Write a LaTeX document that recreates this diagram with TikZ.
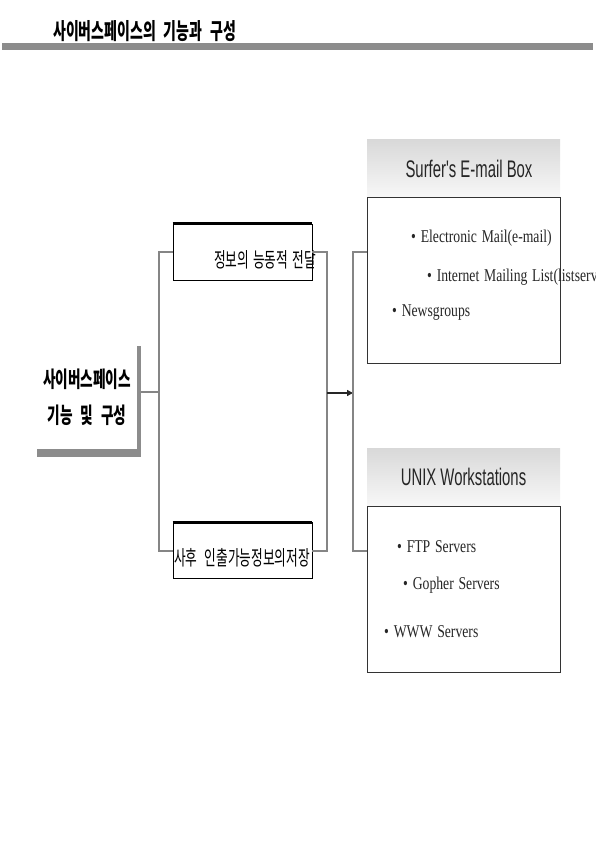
\documentclass[tikz,border=0pt]{standalone}
\usepackage{fontspec}
\newfontfamily\kfont{Noto Sans CJK KR}[FakeStretch=0.62, WordSpace=2.5]
\newfontfamily\hfont{Liberation Sans}[FakeStretch=0.62]
\newfontfamily\ifont{Liberation Serif}[FakeStretch=0.76, WordSpace=1.4]
\definecolor{linkgray}{HTML}{858585}
\definecolor{shadegray}{HTML}{8C8C8C}
\usetikzlibrary{positioning, arrows.meta, backgrounds}

\begin{document}
\begin{tikzpicture}[
  x=1pt, y=-1pt,
  link/.style={draw=linkgray, line width=2pt},
  arr/.style={draw=black!85, line width=1.3pt, -{Triangle[length=6pt, width=6pt]}},
  corebox/.style={
    rectangle, fill=white, minimum width=100pt, minimum height=103pt,
    inner sep=0pt, align=center, font=\kfont\bfseries\fontsize{22}{36}\selectfont
  },
  infobox/.style={
    rectangle, draw=black, line width=0.8pt, fill=white,
    minimum width=139pt, minimum height=56pt, inner sep=0pt
  },
  kortext/.style={font=\kfont\fontsize{20.5}{24}\selectfont, inner sep=0pt},
  head/.style={
    rectangle, top color=gray!30, bottom color=gray!6, draw=none,
    minimum width=193pt, minimum height=57pt, inner sep=0pt,
    font=\hfont\fontsize{24}{28}\selectfont, text=black!85
  },
  body/.style={
    rectangle, draw=black!80, line width=1pt, fill=white,
    minimum width=193pt, minimum height=166pt, inner sep=0pt
  },
  item/.style={anchor=west, inner sep=0pt, font=\ifont\fontsize{18}{22}\selectfont, text=black!85}
]
\useasboundingbox (0,0) rectangle (595,842);

% title
\node[anchor=west, inner sep=0pt, font=\kfont\bfseries\fontsize{22.5}{26}\selectfont] (title) at (53,31) {사이버스페이스의 기능과 구성};
\fill[shadegray] (2,43) rectangle (593,50);

% left box
\node[corebox] (core) at (87,397.5) {사이버스페이스\\기능 및 구성};
\begin{scope}[on background layer]
  \fill[shadegray] (core.north west) rectangle ([xshift=4pt, yshift=-8pt]core.south east);
\end{scope}

% middle boxes
\node[infobox] (info) at (242.5,252) {};
\draw[line width=3pt] (info.north west) -- (info.north east);
\node[kortext, anchor=east] (infotext) at (316,260) {정보의\hspace{-3pt} 능동적\hspace{-3pt} 전달};
\node[infobox] (store) at (242.5,550.5) {};
\draw[line width=3pt] (store.north west) -- (store.north east);
\node[kortext] (storetext) at (242,558) {사후 인출가능정보의저장};

% right boxes
\node[head] (mailhead) at (463.5,168.5) {\hspace*{11pt}Surfer's E-mail Box};
\node[body, below=0pt of mailhead] (mailbody) {};
\node[item] (email) at (411,238) {• Electronic Mail(e-mail)};
\node[item] (list) at (427,277) {• Internet Mailing List(listserv)};
\node[item] (news) at (392,313) {• Newsgroups};

\node[head] (unixhead) at (463.5,477) {UNIX Workstations};
\node[body, below=0pt of unixhead] (unixbody) {};
\node[item] (ftp) at (397,547) {• FTP Servers};
\node[item] (gopher) at (403,585) {• Gopher Servers};
\node[item] (www) at (384,632) {• WWW Servers};

% connectors
\coordinate (jL) at (159,392);
\coordinate (jR) at (327,393);
\coordinate (jT) at (353,393);
\draw[link] ([xshift=4pt]core.east |- jL) -- (jL);
\draw[link] (info.west) -| (jL) |- (store.west);
\draw[link] (info.east) -| (jR) |- (store.east);
\draw[arr] (jR) -- (jT);
\draw[link] (mailbody.west |- info.west) -| (jT) |- (unixbody.west |- store.west);

\end{tikzpicture}
\end{document}
